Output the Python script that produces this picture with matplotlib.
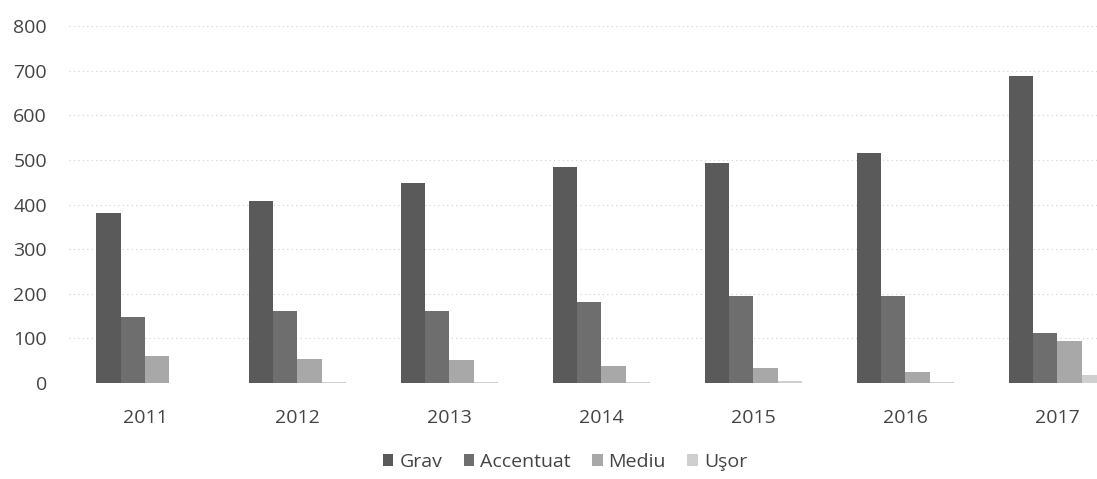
import numpy as np
from matplotlib import pyplot as plt
from matplotlib.patches import Patch

years = ["2011", "2012", "2013", "2014", "2015", "2016", "2017"]
grav = [381, 408, 448, 484, 493, 516, 688]
accentuat = [148, 161, 161, 182, 195, 194, 112]
mediu = [61, 54, 52, 38, 34, 25, 94]
usor = [1, 3, 2, 2, 4, 3, 18]

series = [("Grav", grav, "#5a5a5a"),
          ("Accentuat", accentuat, "#6e6e6e"),
          ("Mediu", mediu, "#a8a8a8"),
          ("Uşor", usor, "#cfcfcf")]

plt.rcParams["font.family"] = ["Open Sans", "DejaVu Sans"]

fig = plt.figure(figsize=(10.97, 4.79), dpi=100)
ax = fig.add_axes([0.063, 0.2004, 0.937, 0.7453])

x = np.arange(len(years))
w = 0.16
for i, (name, vals, col) in enumerate(series):
    ax.bar(x - 0.32 + w / 2 + i * w, vals, width=w, color=col,
           linewidth=0, label=name, zorder=2)

ax.set_ylim(0, 800)
ax.set_xlim(-0.5, 6.26)
ax.set_yticks(range(0, 801, 100))
ax.set_xticks(x)
ax.set_xticklabels(years)
ax.yaxis.grid(True, color="#d0d0d0", linestyle=(0, (1, 3)), linewidth=0.8, zorder=0)
for s in ax.spines.values():
    s.set_visible(False)
ax.tick_params(length=0, labelsize=14, labelcolor="#444444")
ax.tick_params(axis="x", pad=19)
ax.tick_params(axis="y", pad=16)

handles = [Patch(facecolor=c, linewidth=0) for _, _, c in series]
fig.legend(handles, [n for n, _, _ in series], loc="center", bbox_to_anchor=(0.515, 0.035),
           ncol=4, frameon=False, fontsize=14, handlelength=0.55, handleheight=0.55,
           handletextpad=0.3, columnspacing=1.1, labelcolor="#444444")

fig.savefig("out.png", dpi=100)
